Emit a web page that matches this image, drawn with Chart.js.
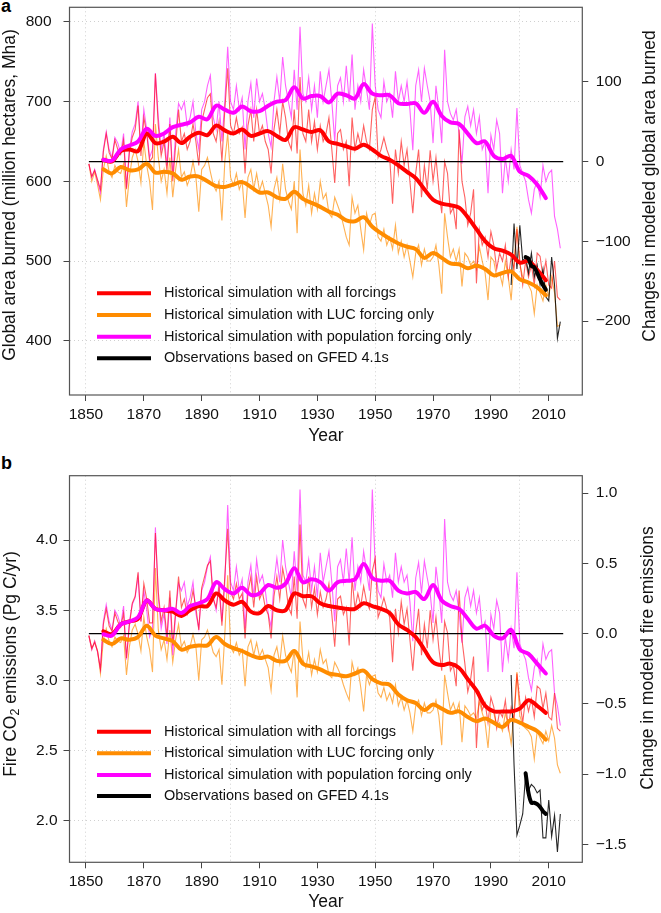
<!DOCTYPE html>
<html>
<head>
<meta charset="utf-8">
<script src="https://cdn.jsdelivr.net/npm/chart.js@4.4.0/dist/chart.umd.min.js"></script>
<style>
  body { margin: 0; background: #fff; width: 661px; height: 913px; position: relative; overflow: hidden;
         font-family: "Liberation Sans", Arial, Helvetica, sans-serif; }
  canvas { position: absolute; left: 0; }
  #chartA { top: 0; }
  #chartB { top: 455px; }
  .panel-tag { position: absolute; left: 1px; font-weight: bold; font-size: 18px; color: #000; }
</style>
</head>
<body>
<div class="panel-tag" style="top:-4px">a</div>
<div class="panel-tag" style="top:453px">b</div>
<canvas id="chartA" width="661" height="455"></canvas>
<canvas id="chartB" width="661" height="458"></canvas>
<script>
// ---- years ----
const firstYear = 1851;
const annualYears = Array.from({ length: 164 }, (_, i) => firstYear + i);      // 1851..2014
const smoothYears = Array.from({ length: 52 }, (_, i) => 1856 + 3 * i);        // 1856..2009
const obsYears = [1997, 1998, 1999, 2000, 2001, 2002, 2003, 2004, 2005, 2006, 2007, 2008, 2009, 2010, 2011, 2012, 2013, 2014];
const obsSmoothYears = [2002, 2003, 2004, 2005, 2006, 2007, 2008, 2009];
const zeroLineYears = [1851, 2015];

// ---- tick values ----
const xTicks = [1850, 1870, 1890, 1910, 1930, 1950, 1970, 1990, 2010];
const xGridYears = [1850, 1900, 1950, 2000];
const ticksAreaLeft = [400, 500, 600, 700, 800];
const ticksAreaRight = [-200, -100, 0, 100];
const ticksFireLeft = [2.0, 2.5, 3.0, 3.5, 4.0];
const ticksFireRight = [-1.5, -1.0, -0.5, 0.0, 0.5, 1.0];

// ---- legend ----
const legendLabels = [
  'Historical simulation with all forcings',
  'Historical simulation with LUC forcing only',
  'Historical simulation with population forcing only',
  'Observations based on GFED 4.1s'
];
const legendColors = ['#ff0000', '#ff8c00', '#ff00ff', '#000000'];

// ---- panel a: global area burned (Mha), annual 1851-2014 ----
const allAnnualA = [
  622,606,614,602,590,637,660,636,628,652, 640,634,652,590,636,655,665,695,632,680,
  660,625,630,735,670,632,650,612,672,600, 645,690,650,660,640,650,672,650,620,675,
  690,705,710,660,650,675,625,690,742,670, 660,680,660,668,610,670,690,650,690,660,
  670,650,640,610,665,690,660,700,680,650, 640,690,635,731,660,650,690,650,675,640,
  670,650,660,680,640,598,660,665,640,650, 594,680,640,660,645,670,650,640,690,706,
  630,640,655,640,630,572,640,610,650,620, 640,600,560,610,640,580,620,590,639,600,
  630,590,560,625,610,560,567,540,665,600, 580,545,560,590,472,540,520,530,505,537,
  520,490,510,500,520,480,505,490,540,500, 470,500,480,495,470,510,506,480,500,470,
  466,500,455,451
];
const lucAnnualA = [
  622,600,612,596,577,615,632,612,605,620, 612,610,622,568,605,630,640,625,598,650,
  620,600,564,672,630,600,615,585,630,580, 615,640,605,612,595,605,625,605,562,615,
  620,630,612,596,588,600,551,625,660,605, 595,610,590,600,554,605,615,590,610,588,
  600,585,570,543,590,605,578,622,590,575, 565,600,535,640,585,570,595,560,585,565,
  600,578,585,560,555,580,570,560,545,530, 520,580,560,570,540,514,560,545,558,560,
  530,525,540,520,530,515,545,510,525,505, 520,500,480,510,520,495,515,500,500,505,
  520,495,459,560,530,505,515,500,515,468, 510,505,495,500,490,518,500,485,451,505,
  500,480,485,470,500,480,451,500,543,495, 480,475,470,462,434,470,460,450,470,455,
  480,460,418,420
];
const popAnnualA = [
  622,605,615,600,586,640,662,640,630,655, 648,635,660,592,640,662,672,700,640,690,
  665,630,640,736,680,640,660,620,680,606, 660,698,690,700,670,680,700,660,640,690,
  700,720,733,680,665,700,650,700,769,700, 690,720,690,705,640,700,723,680,729,700,
  710,690,660,643,700,731,700,756,720,700, 680,740,690,794,710,700,730,690,720,680,
  738,700,720,740,700,650,720,730,700,745, 700,759,690,720,700,740,715,690,798,720,
  690,680,725,700,710,680,738,700,720,700, 725,690,639,720,740,700,742,720,700,648,
  720,690,648,765,700,685,677,690,660,622, 681,694,670,690,660,681,640,650,585,658,
  640,677,660,585,630,600,640,615,692,620, 610,600,577,560,590,600,580,620,600,610,
  614,556,540,516
];
const allSmoothA = [627,625,638,640,638,660,648,650,656,648,656,661,658,670,664,660,665,657,660,663,657,652,668,665,662,664,650,647,644,641,646,640,632,627,620,612,604,590,577,572,570,567,555,540,525,516,513,508,498,500,489,476];
const lucSmoothA = [615,610,618,614,615,622,611,612,610,602,606,606,600,594,593,596,599,593,586,586,580,578,587,578,573,568,562,558,551,550,555,543,535,528,522,518,515,504,510,504,497,496,491,494,490,482,485,487,477,473,467,457];
const popSmoothA = [627,626,640,645,650,666,657,660,668,671,674,681,678,695,690,686,694,688,688,695,700,702,718,704,707,707,699,710,708,704,722,710,708,708,698,697,698,686,700,682,674,672,660,648,650,632,628,632,612,607,596,579];
const obsAnnualA = [470,547,490,545,500,505,485,510,480,495,470,490,455,450,505,470,403,424];
const obsSmoothA = [505,503,494,492,485,477,470,464];
const zeroLineA = [0, 0];

// ---- panel b: fire CO2 emissions (Pg C/yr), annual 1851-2014 ----
const allAnnualB = [
  3.32,3.23,3.27,3.21,3.08,3.40,3.51,3.39,3.35,3.48, 3.42,3.38,3.48,3.16,3.39,3.55,3.60,3.77,3.42,3.69,
  3.58,3.41,3.41,4.05,3.63,3.42,3.52,3.31,3.64,3.25, 3.49,3.74,3.52,3.58,3.47,3.52,3.64,3.52,3.36,3.66,
  3.74,3.82,3.85,3.58,3.52,3.66,3.39,3.74,4.08,3.63, 3.58,3.69,3.58,3.62,3.30,3.63,3.74,3.52,3.74,3.58,
  3.63,3.52,3.47,3.30,3.60,3.74,3.58,3.80,3.69,3.52, 3.47,3.74,3.44,4.11,3.58,3.52,3.74,3.52,3.66,3.47,
  3.63,3.52,3.58,3.69,3.47,3.24,3.58,3.60,3.47,3.52, 3.25,3.73,3.51,3.62,3.53,3.67,3.56,3.51,3.78,3.87,
  3.45,3.51,3.59,3.51,3.45,3.13,3.51,3.34,3.56,3.40, 3.51,3.29,3.07,3.34,3.51,3.18,3.40,3.23,3.50,3.29,
  3.45,3.23,3.07,3.42,3.34,3.07,3.11,2.96,3.64,3.29, 3.12,2.92,3.01,3.17,2.52,2.90,2.79,2.84,2.70,2.88,
  2.81,2.66,2.78,2.74,2.86,2.66,2.81,2.72,3.05,2.85, 2.70,2.88,2.78,2.87,2.74,2.96,2.94,2.80,2.91,2.74,
  2.72,2.91,2.66,2.64
];
const lucAnnualB = [
  3.32,3.22,3.28,3.21,3.05,3.29,3.37,3.28,3.24,3.31, 3.28,3.27,3.32,3.04,3.24,3.36,3.40,3.33,3.21,3.45,
  3.31,3.22,3.06,3.80,3.36,3.22,3.29,3.15,3.36,3.13, 3.29,3.40,3.24,3.28,3.20,3.24,3.33,3.24,3.00,3.29,
  3.31,3.36,3.28,3.20,3.17,3.22,2.97,3.33,3.75,3.24, 3.20,3.27,3.18,3.22,2.96,3.24,3.29,3.18,3.27,3.17,
  3.22,3.15,3.09,2.93,3.18,3.24,3.12,3.32,3.18,3.11, 3.06,3.22,2.88,3.42,3.15,3.09,3.20,3.04,3.15,3.06,
  3.22,3.12,3.15,3.04,3.02,3.13,3.09,3.04,2.97,2.91, 2.86,3.13,3.04,3.09,2.95,2.78,3.04,2.97,3.03,3.04,
  2.91,2.88,2.95,2.86,2.91,2.84,2.97,2.82,2.88,2.79, 2.86,2.77,2.64,2.82,2.86,2.75,2.84,2.77,2.77,2.79,
  2.86,2.75,2.54,3.04,2.91,2.79,2.84,2.77,2.84,2.56, 2.82,2.79,2.75,2.77,2.73,2.85,2.77,2.70,2.52,2.79,
  2.77,2.68,2.70,2.64,2.77,2.68,2.55,2.77,3.06,2.75, 2.68,2.66,2.64,2.60,2.44,2.64,2.59,2.55,2.64,2.57,
  2.68,2.59,2.40,2.34
];
const popAnnualB = [
  3.32,3.22,3.28,3.20,3.08,3.42,3.54,3.42,3.36,3.50, 3.46,3.39,3.53,3.15,3.42,3.54,3.59,3.74,3.42,3.64,
  3.50,3.31,3.37,4.09,3.59,3.37,3.48,3.26,3.59,3.18, 3.48,3.69,3.64,3.70,3.53,3.59,3.70,3.48,3.37,3.64,
  3.70,3.81,3.88,3.59,3.50,3.70,3.42,3.70,4.25,3.70, 3.64,3.81,3.64,3.72,3.37,3.70,3.82,3.59,3.86,3.70,
  3.75,3.64,3.48,3.38,3.70,3.87,3.70,4.00,3.81,3.70, 3.59,3.92,3.64,4.36,3.75,3.70,3.86,3.64,3.81,3.59,
  3.91,3.70,3.81,3.92,3.70,3.42,3.81,3.86,3.70,3.94, 3.70,4.02,3.64,3.81,3.70,3.92,3.78,3.64,4.36,3.81,
  3.64,3.59,3.83,3.70,3.75,3.59,3.91,3.70,3.81,3.70, 3.75,3.56,3.28,3.73,3.84,3.62,3.85,3.73,3.62,3.41,
  3.81,3.64,3.41,4.15,3.70,3.61,3.57,3.64,3.48,3.27, 3.59,3.66,3.53,3.64,3.48,3.59,3.37,3.42,3.06,3.47,
  3.37,3.57,3.48,3.06,3.31,3.15,3.37,3.23,3.77,3.26, 3.20,3.15,3.02,2.93,3.09,3.15,3.04,3.26,3.15,3.20,
  3.22,2.91,2.82,2.68
];
const allSmoothB = [3.35,3.33,3.40,3.42,3.44,3.57,3.51,3.50,3.49,3.46,3.50,3.53,3.53,3.62,3.57,3.54,3.56,3.49,3.48,3.53,3.50,3.50,3.62,3.60,3.60,3.55,3.53,3.52,3.51,3.51,3.55,3.53,3.51,3.48,3.40,3.36,3.31,3.22,3.13,3.11,3.12,3.09,3.01,2.93,2.82,2.78,2.78,2.78,2.80,2.86,2.82,2.77];
const lucSmoothB = [3.29,3.26,3.30,3.29,3.31,3.39,3.32,3.30,3.28,3.22,3.24,3.25,3.25,3.31,3.26,3.23,3.21,3.18,3.16,3.17,3.14,3.14,3.21,3.12,3.10,3.08,3.05,3.04,3.03,3.05,3.07,3.01,2.98,2.97,2.90,2.86,2.84,2.79,2.83,2.80,2.77,2.78,2.74,2.71,2.73,2.70,2.67,2.72,2.70,2.67,2.64,2.58];
const popSmoothB = [3.33,3.32,3.40,3.42,3.45,3.57,3.51,3.50,3.51,3.48,3.53,3.55,3.58,3.70,3.65,3.62,3.66,3.61,3.62,3.68,3.66,3.69,3.80,3.70,3.72,3.70,3.64,3.70,3.71,3.72,3.83,3.73,3.71,3.71,3.64,3.62,3.63,3.58,3.68,3.57,3.53,3.51,3.44,3.37,3.39,3.32,3.30,3.36,3.22,3.19,3.12,3.05];
const obsAnnualB = [3.04,2.40,1.90,1.97,2.05,2.33,2.22,2.26,2.24,2.20,2.22,1.88,1.88,2.15,1.89,2.04,1.78,2.05];
const obsSmoothB = [2.34,2.20,2.13,2.13,2.12,2.10,2.07,2.05];
const zeroLineB = [0, 0];

// ---------------------------------------------------------------
const FONT = '"Liberation Sans", Arial, Helvetica, sans-serif';
Chart.defaults.font.family = FONT;

const pts = (xs, ys) => xs.map((x, i) => ({ x: x, y: ys[i] }));
const minus = v => (v < 0 ? '\u2212' : '') + Math.abs(v);

function thin(data, color, order) {
  return { data, borderColor: color, borderWidth: 1.1, pointRadius: 0, tension: 0, order, yAxisID: 'y' };
}
function thick(data, color, order) {
  return { data, borderColor: color, borderWidth: 4, pointRadius: 0, tension: 0.35, order, yAxisID: 'y',
           borderCapStyle: 'round', borderJoinStyle: 'round' };
}
// fixed axis sizes, no extra label overhang padding
const fixWidth = w => s => { s.width = w; s.paddingTop = 0; s.paddingBottom = 0; };
const fixHeight = h => s => { s.height = h; s.paddingLeft = 0; s.paddingRight = 0; };

// frame, legend and y-axis titles (R-style box drawn around the plot region)
const decoPlugin = {
  id: 'deco',
  afterDraw(chart, args, o) {
    const { ctx, chartArea: a } = chart;
    ctx.save();
    ctx.strokeStyle = '#555';
    ctx.lineWidth = 1.2;
    ctx.strokeRect(a.left, a.top, a.right - a.left, a.bottom - a.top);

    // legend inside the plot
    ctx.font = '14.5px ' + FONT;
    ctx.textBaseline = 'middle';
    ctx.textAlign = 'left';
    o.legendRows.forEach((y, i) => {
      ctx.strokeStyle = legendColors[i];
      ctx.lineWidth = 4;
      ctx.beginPath(); ctx.moveTo(97, y); ctx.lineTo(151, y); ctx.stroke();
      ctx.fillStyle = '#111';
      ctx.fillText(legendLabels[i], 164, y);
    });

    // y titles, both reading bottom-to-top
    ctx.fillStyle = '#111';
    ctx.textBaseline = 'middle';
    const big = '17.5px ' + FONT, small = '12.5px ' + FONT;
    const drawParts = (x, y, parts) => {
      ctx.save();
      ctx.translate(x, y);
      ctx.rotate(-Math.PI / 2);
      let total = 0;
      parts.forEach(p => { ctx.font = p.sub ? small : big; total += ctx.measureText(p.t).width; });
      let cx = -total / 2;
      ctx.textAlign = 'left';
      parts.forEach(p => {
        ctx.font = p.sub ? small : big;
        ctx.fillText(p.t, cx, p.sub ? 5 : 0);
        cx += ctx.measureText(p.t).width;
      });
      ctx.restore();
    };
    drawParts(o.leftTitleX, o.leftTitleY, o.leftTitle);
    drawParts(o.rightTitleX, o.rightTitleY, o.rightTitle);
    ctx.restore();
  }
};

function makePanel(id, p) {
  const datasets = [
    thick(pts(obsSmoothYears, p.obsSmooth), '#000000', 0),
    thick(pts(smoothYears, p.popSmooth), '#ff00ff', 1),
    thick(pts(smoothYears, p.allSmooth), '#ff0000', 2),
    thick(pts(smoothYears, p.lucSmooth), '#ff8c00', 3),
    { data: pts(zeroLineYears, p.zero), borderColor: '#000', borderWidth: 1.1, pointRadius: 0, order: 4, yAxisID: 'y2' },
    thin(pts(obsYears, p.obsAnnual), 'rgba(0,0,0,0.85)', 5),
    thin(pts(annualYears, p.allAnnual), 'rgba(255,0,0,0.62)', 6),
    thin(pts(annualYears, p.popAnnual), 'rgba(255,0,255,0.62)', 7),
    thin(pts(annualYears, p.lucAnnual), 'rgba(255,140,0,0.68)', 8)
  ];
  const tickFont = { size: 15.5, family: FONT };
  return new Chart(document.getElementById(id), {
    type: 'line',
    data: { datasets },
    options: {
      responsive: false,
      animation: false,
      events: [],
      layout: { padding: { top: p.padTop, left: 0, right: 0, bottom: 0 } },
      plugins: {
        legend: { display: false },
        tooltip: { enabled: false },
        deco: p.deco
      },
      scales: {
        x: {
          type: 'linear', position: 'bottom', min: 1844.3, max: 2021.6,
          afterBuildTicks: s => { s.ticks = xTicks.map(v => ({ value: v })); },
          ticks: { callback: v => String(v), font: tickFont, color: '#111', padding: 4, maxRotation: 0, autoSkip: false },
          grid: { drawOnChartArea: false, drawTicks: true, tickLength: 6, tickColor: '#444', tickWidth: 1 },
          border: { display: false },
          title: { display: true, text: 'Year', color: '#111', font: { size: 17.5, family: FONT },
                   padding: { top: 0, bottom: p.yearPad } },
          afterFit: fixHeight(p.xHeight)
        },
        xg: {
          type: 'linear', position: 'bottom', min: 1844.3, max: 2021.6,
          afterBuildTicks: s => { s.ticks = xGridYears.map(v => ({ value: v })); },
          ticks: { display: false },
          grid: { drawOnChartArea: true, drawTicks: false, color: '#d0d0d0', lineWidth: 1 },
          border: { display: false, dash: [1, 3] },
          afterFit: fixHeight(0)
        },
        y: {
          type: 'linear', position: 'left', min: p.yMin, max: p.yMax,
          afterBuildTicks: s => { s.ticks = p.yTicks.map(v => ({ value: v })); },
          ticks: { callback: p.yFmt, font: tickFont, color: '#111', padding: p.yPad },
          grid: { drawOnChartArea: true, drawTicks: true, tickLength: 6, color: '#d0d0d0', tickColor: '#444', tickBorderDash: [] },
          border: { display: false, dash: [1, 3] },
          afterFit: fixWidth(69.5)
        },
        y2: {
          type: 'linear', position: 'right', min: p.y2Min, max: p.y2Max,
          afterBuildTicks: s => { s.ticks = p.y2Ticks.map(v => ({ value: v })); },
          ticks: { callback: p.y2Fmt, font: tickFont, color: '#111', padding: 7.5 },
          grid: { drawOnChartArea: false, drawTicks: true, tickLength: 6, tickColor: '#444' },
          border: { display: false },
          afterFit: fixWidth(78.7)
        }
      }
    },
    plugins: [decoPlugin]
  });
}

makePanel('chartA', {
  allAnnual: allAnnualA, lucAnnual: lucAnnualA, popAnnual: popAnnualA,
  allSmooth: allSmoothA, lucSmooth: lucSmoothA, popSmooth: popSmoothA,
  obsAnnual: obsAnnualA, obsSmooth: obsSmoothA, zero: zeroLineA,
  padTop: 7.3, xHeight: 60, yearPad: 8,
  yMin: 331.9, yMax: 818.4, yTicks: ticksAreaLeft, yFmt: v => String(v), yPad: 12,
  y2Min: -292.8, y2Max: 193.7, y2Ticks: ticksAreaRight, y2Fmt: v => minus(v),
  deco: {
    legendRows: [293.3, 315, 336.7, 358.3],
    leftTitleX: 10, leftTitleY: 195,
    leftTitle: [{ t: 'Global area burned (million hectares, Mha)' }],
    rightTitleX: 650, rightTitleY: 186,
    rightTitle: [{ t: 'Changes in modeled global area burned' }]
  }
});

makePanel('chartB', {
  allAnnual: allAnnualB, lucAnnual: lucAnnualB, popAnnual: popAnnualB,
  allSmooth: allSmoothB, lucSmooth: lucSmoothB, popSmooth: popSmoothB,
  obsAnnual: obsAnnualB, obsSmooth: obsSmoothB, zero: zeroLineB,
  padTop: 20.7, xHeight: 50.7, yearPad: 0,
  yMin: 1.706, yMax: 4.458, yTicks: ticksFireLeft, yFmt: v => v.toFixed(1), yPad: 6,
  y2Min: -1.628, y2Max: 1.124, y2Ticks: ticksFireRight, y2Fmt: v => (v < 0 ? '\u2212' : '') + Math.abs(v).toFixed(1),
  deco: {
    legendRows: [276.7, 298.3, 320, 341],
    leftTitleX: 11, leftTitleY: 209,
    leftTitle: [{ t: 'Fire CO' }, { t: '2', sub: true }, { t: ' emissions (Pg C/yr)' }],
    rightTitleX: 648, rightTitleY: 203,
    rightTitle: [{ t: 'Change in modeled fire emissions' }]
  }
});
</script>
</body>
</html>
